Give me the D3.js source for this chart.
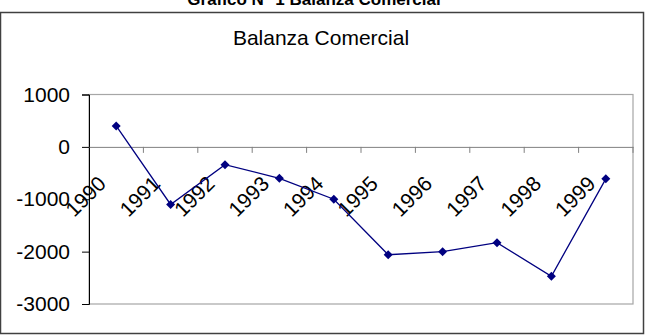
<!DOCTYPE html>
<html>
<head>
<meta charset="utf-8">
<script src="https://cdn.jsdelivr.net/npm/d3@7"></script>
<style>
  body { margin: 0; background: #fff; }
  svg { display: block; font-family: Arial, "Liberation Sans", sans-serif; }
</style>
</head>
<body>
<svg id="chart" width="647" height="336"></svg>
<script>
// --- DATA ---
const years = ["1990", "1991", "1992", "1993", "1994", "1995", "1996", "1997", "1998", "1999"];
const balanza = [400, -1100, -340, -600, -1000, -2060, -2000, -1830, -2470, -610];
const yTicks = [1000, 0, -1000, -2000, -3000];

const svg = d3.select("#chart");

// page heading (cut off at the top, as in the scan)
svg.append("text")
    .attr("x", 314).attr("y", 5)
    .attr("text-anchor", "middle")
    .attr("font-size", 17).attr("font-weight", "bold")
    .text("Gráfico N° 1 Balanza Comercial");

svg.append("rect")
    .attr("x", 0.5).attr("y", 12.5).attr("width", 643).attr("height", 321)
    .attr("fill", "#fff").attr("stroke", "#404040").attr("stroke-width", 1.5);

svg.append("text")
    .attr("x", 321).attr("y", 45)
    .attr("text-anchor", "middle")
    .attr("font-size", 21)
    .text("Balanza Comercial");

// --- SCALES ---
const x = d3.scaleBand().domain(years).range([89, 633]).padding(0);
const y = d3.scaleLinear().domain([-3000, 1000]).range([304, 94.5]);

// plot area frame
svg.append("rect")
    .attr("x", 89).attr("y", y(1000)).attr("width", 633 - 89).attr("height", y(-3000) - y(1000))
    .attr("fill", "none").attr("stroke", "#a6a6a6").attr("stroke-width", 1.2);

// y axis
const yAxis = svg.append("g")
    .attr("transform", "translate(89,0)")
    .call(d3.axisLeft(y).tickValues(yTicks).tickSize(7).tickPadding(12).tickFormat(d => String(d)));
yAxis.select(".domain").attr("stroke", "#000").attr("stroke-width", 1);
yAxis.selectAll(".tick line").attr("stroke", "#000");
yAxis.selectAll("text").attr("font-size", 21).attr("fill", "#000").attr("font-family", "Arial, 'Liberation Sans', sans-serif");

// x axis at zero
const xAxis = svg.append("g")
    .attr("transform", `translate(0,${y(0)})`)
    .call(d3.axisBottom(x).tickSize(0).tickFormat(""));
xAxis.select(".domain").attr("stroke", "#808080");

const bandEdges = years.map(d => x(d) + x.bandwidth());
svg.append("g").selectAll("line").data(bandEdges).join("line")
    .attr("x1", d => d).attr("x2", d => d)
    .attr("y1", y(0)).attr("y2", y(0) + 6)
    .attr("stroke", "#808080");

svg.append("g").selectAll("text").data(years).join("text")
    .attr("transform", d => `translate(${x(d) + x.bandwidth() / 2 - 9},${y(0) + 38}) rotate(-45)`)
    .attr("text-anchor", "end")
    .attr("font-size", 21)
    .text(d => d);

// --- LINE ---
const pts = years.map((d, i) => [x(d) + x.bandwidth() / 2, y(balanza[i])]);

svg.append("path")
    .attr("d", d3.line()(pts))
    .attr("fill", "none").attr("stroke", "#000080").attr("stroke-width", 1.3);

svg.append("g").selectAll("path").data(pts).join("path")
    .attr("transform", d => `translate(${d[0]},${d[1]})`)
    .attr("d", "M0,-4.5L4.5,0L0,4.5L-4.5,0Z")
    .attr("fill", "#000080");
</script>
</body>
</html>
